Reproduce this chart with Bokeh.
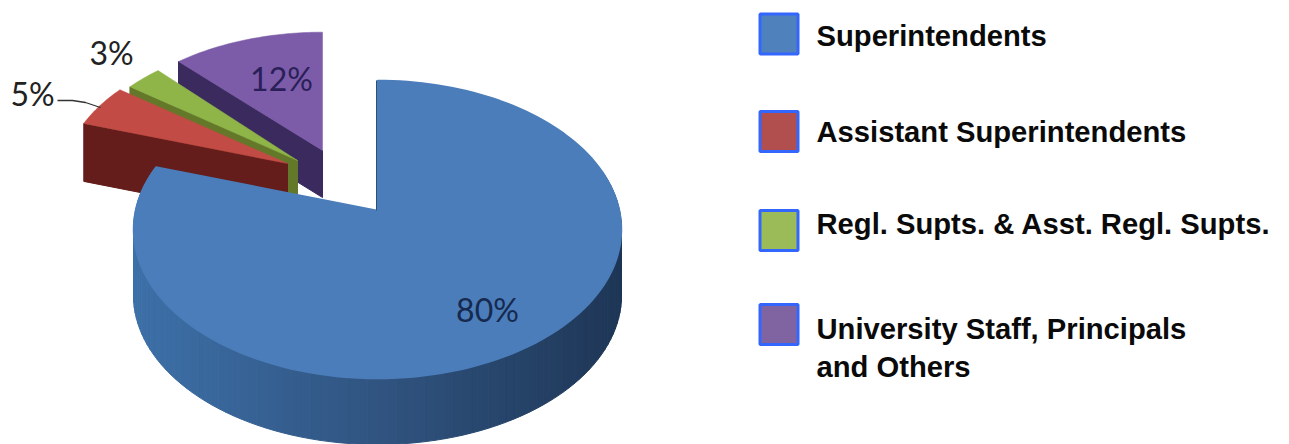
import math
from bokeh.plotting import figure
from bokeh.models import Range1d
from bokeh.core.properties import value
from bokeh.embed import file_html
from bokeh.resources import INLINE

# ---- data (clockwise from 12 o'clock) ----
categories = ["Superintendents", "Assistant Superintendents",
              "Regl. Supts. & Asst. Regl. Supts.", "University Staff, Principals\nand Others"]
shares = [80, 5, 3, 12]

# ---- style ----
top_colors = ["#4b7dba", "#c24c45", "#8fb549", "#7c5ca8"]
wall_colors = ["#2f5380", "#641d1a", "#64782a", "#3a2a5e"]
legend_colors = ["#4f81bd", "#b04f4d", "#9bbb59", "#8064a2"]
legend_edge = "#3366ff"
label_colors = ["#16294e", "#222222", "#222222", "#2a1f58"]

# ---- layout, in page pixels ----
W, H = 1289, 444
APEX_X = [377, 287, 297, 322]
APEX_Y = [210, 163, 160, 150]
SCALE_X = [1.0, 0.92, 0.92, 0.95]
SCALE_Y = [1.0, 0.92, 0.92, 0.91]
DEPTH = [66, 58, 55, 47]
RX, RY, K = 242.0, 146.6, 0.1275
LABEL_X = [487, 32, 111, 281]
LABEL_Y = [309, 93, 52, 78]
LEG_X, LEG_TEXT_X, LEG_W, LEG_H = 778.5, 816, 41, 43
LEG_Y = [33.5, 131, 230, 324]
LEG_BASE = [[35], [131], [223], [328, 366]]

p = figure(width=W, height=H, output_backend="svg", toolbar_location=None,
           x_range=Range1d(0, W), y_range=Range1d(H, 0),
           min_border=0, outline_line_color=None, background_fill_color="white")
p.axis.visible = False
p.grid.visible = False


def rim(i, deg):
    """Rim point of slice i at `deg` clockwise from the top, under a perspective tilt."""
    a = math.radians(deg)
    u, v = math.sin(a), math.cos(a)
    w = 1 + K * v
    return (APEX_X[i] + SCALE_X[i] * RX * u / w, APEX_Y[i] - SCALE_Y[i] * RY * v / w)


def sweep(a0, a1, n=None):
    n = n or max(2, int(abs(a1 - a0)))
    return [a0 + (a1 - a0) * j / n for j in range(n + 1)]


def mix(t):
    stops = [(0.0, (0x3d, 0x70, 0xa8)), (0.5, (0x30, 0x54, 0x80)), (1.0, (0x1e, 0x36, 0x56))]
    t = max(0.0, min(1.0, t))
    for (t0, c0), (t1, c1) in zip(stops, stops[1:]):
        if t <= t1:
            f = (t - t0) / (t1 - t0)
            return "#%02x%02x%02x" % tuple(round(a + (b - a) * f) for a, b in zip(c0, c1))


# Cumulative angles taken from the values
total = sum(shares)
starts, ends, acc = [], [], 0
for s in shares:
    starts.append(acc / total * 360)
    acc += s
    ends.append(acc / total * 360)

# Exploded back slices, far to near
for i in [3, 2, 1]:
    ax, ay = APEX_X[i], APEX_Y[i]
    cx, cy = rim(i, starts[i])
    p.patch([cx, ax, ax, cx], [cy, ay, ay + DEPTH[i], cy + DEPTH[i]],
            fill_color=wall_colors[i], line_color=wall_colors[i], line_width=1)
    pts = [rim(i, a) for a in sweep(starts[i], ends[i])]
    p.patch([ax] + [q[0] for q in pts], [ay] + [q[1] for q in pts],
            fill_color=top_colors[i], line_color=top_colors[i], line_width=0.5)

# Big slice: shaded side wall (front-facing part only), then the top face
pts = sweep(starts[0], ends[0], 144)
xs, ys, cs = [], [], []
for a0, a1 in zip(pts, pts[1:]):
    if a1 < 75:
        continue
    x0, y0 = rim(0, a0)
    x1, y1 = rim(0, a1)
    xs.append([x0, x1, x1, x0])
    ys.append([y0, y1, y1 + DEPTH[0], y0 + DEPTH[0]])
    cs.append(mix(((x0 + x1) / 2 - 135) / 487))
p.patches(xs, ys, fill_color=cs, line_color=cs, line_width=1)

top = [rim(0, a) for a in pts]
p.patch([APEX_X[0]] + [q[0] for q in top], [APEX_Y[0]] + [q[1] for q in top],
        fill_color=top_colors[0], line_color=top_colors[0], line_width=1.5)
p.line([rim(0, 0)[0] - 1, APEX_X[0] - 1], [rim(0, 0)[1], APEX_Y[0]], line_color="#2c5078", line_width=1)

# Leader line of the 5% label
p.line([57, 72, 85, 100], [100, 100, 102, 107], line_color="#333333", line_width=1.3)

# Value labels
p.text(x=LABEL_X, y=LABEL_Y, text=[f"{s}%" for s in shares], text_align="center",
       text_baseline="middle", text_font=value("Lato"),
       text_font_size="32px", text_color=label_colors)

# Legend
p.rect(x=[LEG_X] * 4, y=LEG_Y, width=[LEG_W - 3] * 4, height=[LEG_H - 3] * 4,
       fill_color=legend_colors, line_color=legend_edge, line_width=3)
tx, ty, tt = [], [], []
for name, bases in zip(categories, LEG_BASE):
    for line, b in zip(name.split("\n"), bases):
        tx.append(LEG_TEXT_X); ty.append(b); tt.append(line)
p.text(x=tx, y=ty, text=tt, text_align="left", text_baseline="alphabetic",
       text_font=value("Liberation Sans"), text_font_style="bold",
       text_font_size="29.2px", text_color="#0a0a0a")

open("out.html", "w").write(file_html(p, INLINE))
